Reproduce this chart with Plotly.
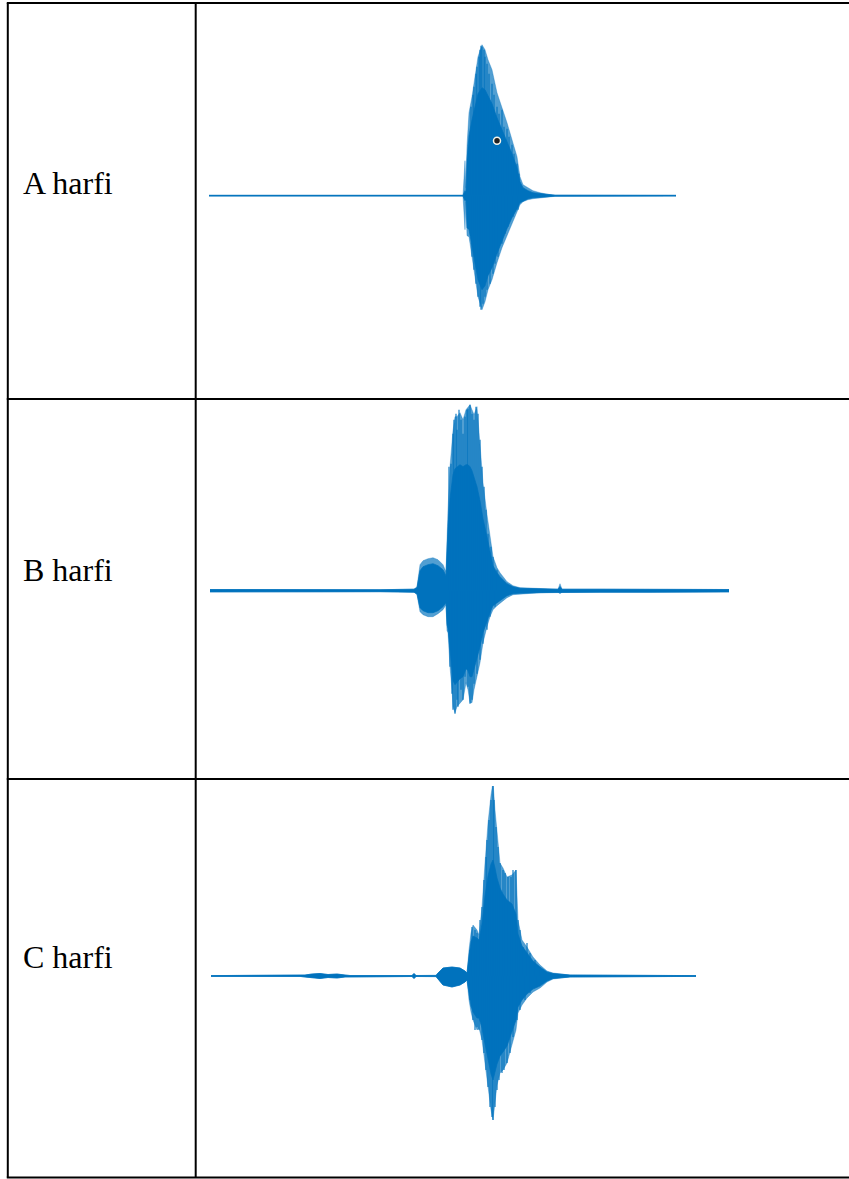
import plotly.graph_objects as go

W, H = 849, 1179

labels = ["A harfi", "B harfi", "C harfi"]

# ---------------- Waveform A ----------------
# frame offset, outer (peak) envelope, dense core envelope
A_t = [0, 254, 256, 257, 258, 260, 263, 266, 269, 273, 276, 279, 283, 288, 293,
       298, 303, 308, 311, 314, 319, 324, 331, 338, 346, 467]
A_up = [0.4, 0.4, 35, 8, 50, 83, 99, 119, 139, 151, 146, 136, 126, 103, 89,
        73, 56, 39, 19, 11, 8, 5, 3, 1.5, 0.6, 0.4]
A_lo = [-0.4, -0.4, -34, -6, -40, -41, -61, -81, -101, -114, -106, -94, -84, -67, -52,
        -39, -27, -16, -9, -6, -4, -3, -2, -1.5, -0.6, -0.4]
A_core_up = [0.4, 0.4, 5, 4, 36, 60, 76, 90, 102, 108, 106, 100, 92, 78, 66,
             54, 42, 28, 14, 8, 5, 3, 2, 1, 0.5, 0.4]
A_core_lo = [-0.4, -0.4, -5, -4, -32, -34, -52, -68, -84, -94, -90, -80, -72, -58, -45,
             -33, -22, -13, -7, -5, -3, -2, -1.5, -1, -0.5, -0.4]
# individual peaks (frame, amplitude)
A_pk_t = [262, 264, 265, 267, 268, 270, 271, 272, 273, 275, 276, 278, 280, 283, 285,
          288, 290, 293, 295, 298, 300, 303, 305, 308, 310,
          263, 265, 267, 269, 271, 272, 274, 276, 278, 281, 284, 286, 289, 293, 296,
          299, 304, 309]
A_pk_v = [89, 101, 109, 122, 129, 139, 146, 150, 149, 146, 139, 132, 122, 112, 101,
          89, 82, 86, 69, 67, 59, 51, 42, 32, 22,
          -61, -74, -88, -101, -111, -114, -108, -101, -94, -88, -78, -68, -61, -48, -38,
          -31, -21, -14]
A_marker_t = [288]
A_marker_v = [55]

# ---------------- Waveform B ----------------
B_t = [0, 50, 110, 170, 204, 207, 210, 213, 218, 223, 228, 233, 236, 237, 238, 240,
       242, 243, 245, 247, 250, 253, 256, 258, 260, 262, 264, 267, 270, 273, 277, 280,
       283, 287, 290, 297, 303, 310, 330, 348, 350, 352, 390, 440, 490, 519]
B_up = [1.2, 1, 1.2, 1, 1.5, 4, 26, 30, 32, 33, 31, 26, 19, 60, 81, 124,
        151, 160, 174, 174, 178, 171, 181, 183, 186, 181, 176, 184, 150, 108, 76, 53,
        34, 23, 18, 9, 5, 3, 2, 1.5, 7, 1.5, 1.5, 1.5, 1.5, 1.2]
B_lo = [-1.2, -1, -1.2, -1, -1.5, -4, -21, -24, -26, -26, -23, -19, -14, -40, -42, -76,
        -99, -116, -122, -116, -112, -109, -92, -99, -112, -112, -99, -86, -72, -52, -36, -26,
        -19, -15, -12, -7, -4, -3, -2, -1.5, -3, -1.5, -1.5, -1.5, -1.5, -1.2]
B_core_up = [1.2, 1, 1.2, 1, 1.5, 3, 20, 24, 26, 27, 25, 21, 15, 46, 64, 92,
             110, 116, 122, 124, 126, 124, 126, 126, 124, 120, 114, 104, 90, 72, 54, 38,
             25, 18, 14, 7, 4, 2.5, 2, 1.5, 4, 1.5, 1.5, 1.5, 1.5, 1.2]
B_core_lo = [-1.2, -1, -1.2, -1, -1.5, -3, -17, -20, -22, -22, -20, -16, -12, -34, -38, -62,
             -78, -90, -94, -92, -88, -86, -78, -80, -86, -86, -78, -68, -56, -42, -30, -22,
             -15, -12, -10, -5, -3, -2.5, -2, -1.5, -2, -1.5, -1.5, -1.5, -1.5, -1.2]
B_pk_t = [239, 241, 243, 244, 246, 247, 249, 251, 253, 255, 257, 258, 260, 262, 264,
          266, 268, 270, 272, 274, 276, 278, 281, 283, 287,
          240, 242, 243, 245, 247, 248, 251, 253, 255, 258, 260, 262, 264, 267, 270,
          273, 277, 280, 285]
B_pk_v = [124, 127, 157, 171, 177, 161, 181, 171, 157, 174, 181, 182, 186, 177, 171,
          184, 177, 151, 124, 104, 81, 57, 44, 34, 21,
          -76, -103, -119, -123, -109, -116, -99, -109, -86, -96, -113, -109, -93, -83, -69,
          -53, -39, -26, -16]

# ---------------- Waveform C ----------------
C_t = [0, 89, 94, 101, 109, 117, 126, 134, 139, 201, 203, 205, 225, 227, 232, 241,
       249, 254, 256, 258, 260, 262, 266, 268, 271, 274, 277, 280, 282, 284, 286, 289,
       292, 296, 301, 305, 307, 311, 316, 322, 329, 336, 342, 349, 359, 485]
C_up = [0.4, 0.4, 1, 2, 2.5, 1.5, 2, 1, 0.5, 0.5, 2.5, 0.5, 0.6, 3, 8, 9,
        8, 5, 3, 26, 43, 51, 46, 41, 69, 113, 153, 181, 194, 166, 143, 113,
        108, 99, 101, 106, 56, 36, 29, 19, 11, 5, 3, 2, 1, 0.4]
C_lo = [-0.4, -0.4, -1, -2, -2.5, -1.5, -2, -1, -0.5, -0.5, -2.5, -0.5, -0.6, -3, -9, -11,
        -9, -6, -4, -24, -36, -44, -54, -52, -64, -87, -111, -134, -144, -124, -109, -97,
        -94, -87, -69, -54, -37, -29, -22, -16, -12, -6, -3, -2, -1, -0.4]
C_core_up = [0.4, 0.4, 1, 2, 2.5, 1.5, 2, 1, 0.5, 0.5, 2.5, 0.5, 0.6, 3, 8, 9,
             8, 5, 3, 20, 34, 40, 38, 36, 52, 80, 100, 112, 116, 108, 98, 88,
             82, 76, 72, 62, 42, 30, 23, 15, 9, 4, 2.5, 2, 1, 0.4]
C_core_lo = [-0.4, -0.4, -1, -2, -2.5, -1.5, -2, -1, -0.5, -0.5, -2.5, -0.5, -0.6, -3, -9, -11,
             -9, -6, -4, -18, -30, -36, -42, -42, -52, -68, -84, -98, -104, -96, -88, -80,
             -76, -70, -56, -44, -31, -24, -18, -13, -10, -5, -2.5, -2, -1, -0.4]
C_pk_t = [259, 261, 264, 266, 269, 271, 273, 275, 276, 278, 280, 282, 283, 285, 287,
          289, 292, 294, 297, 300, 302, 305, 307, 309, 312, 316, 319, 324, 329,
          259, 262, 264, 266, 268, 271, 273, 275, 277, 279, 281, 282, 284, 286, 288,
          291, 293, 296, 299, 302, 306, 309, 314, 319, 326]
C_pk_v = [26, 49, 46, 43, 56, 69, 96, 119, 136, 156, 176, 194, 176, 149, 129,
          113, 106, 103, 99, 99, 106, 106, 56, 46, 29, 33, 23, 16, 9,
          -24, -44, -54, -51, -54, -64, -77, -94, -111, -131, -141, -144, -131, -114, -104,
          -97, -94, -87, -77, -61, -44, -34, -24, -17, -11]

waves = [
    (A_t, A_up, A_lo, A_core_up, A_core_lo, A_pk_t, A_pk_v),
    (B_t, B_up, B_lo, B_core_up, B_core_lo, B_pk_t, B_pk_v),
    (C_t, C_up, C_lo, C_core_up, C_core_lo, C_pk_t, C_pk_v),
]

# layout geometry (pixels)
wave_x = [(209, 676), (210, 729), (211, 696)]
wave_base = [195.7, 590.7, 976.0]
half_span = 190
text_y = [184, 571, 958]
row_lines = [3, 399, 779, 1177.5]
col_lines = [7.8, 195.7]

BLUE = "#0072BD"
BLUE_LIGHT = "rgba(0,114,189,0.68)"


def px(x):
    return x / W


def py(y):
    return 1 - y / H


fig = go.Figure()
layout = dict(
    width=W, height=H, margin=dict(l=0, r=0, t=0, b=0),
    paper_bgcolor="white", plot_bgcolor="rgba(0,0,0,0)", showlegend=False,
)

for i, (t, up, lo, cup, clo, pt, pv) in enumerate(waves):
    n = "" if i == 0 else str(i + 1)
    xa, ya = "x" + n, "y" + n
    # outer (peak) envelope
    fig.add_trace(go.Scatter(x=list(t) + list(t)[::-1], y=list(up) + list(lo)[::-1],
                             fill="toself", fillcolor=BLUE_LIGHT, mode="lines",
                             line=dict(color=BLUE_LIGHT, width=0.5),
                             xaxis=xa, yaxis=ya, hoverinfo="skip"))
    # dense core
    fig.add_trace(go.Scatter(x=list(t) + list(t)[::-1], y=list(cup) + list(clo)[::-1],
                             fill="toself", fillcolor=BLUE, mode="lines",
                             line=dict(color=BLUE, width=0.7),
                             xaxis=xa, yaxis=ya, hoverinfo="skip"))
    # individual peaks
    sx, sy = [], []
    for tt, vv in zip(pt, pv):
        sx += [tt, tt, None]
        sy += [0, vv, None]
    fig.add_trace(go.Scatter(x=sx, y=sy, mode="lines",
                             line=dict(color=BLUE, width=1.1),
                             xaxis=xa, yaxis=ya, hoverinfo="skip"))
    x0, x1 = wave_x[i]
    b = wave_base[i]
    layout["xaxis" + n] = dict(domain=[px(x0), px(x1)], range=[0, t[-1]],
                               visible=False, fixedrange=True, anchor=ya)
    layout["yaxis" + n] = dict(domain=[py(b + half_span), py(b - half_span)],
                               range=[-half_span, half_span], visible=False,
                               fixedrange=True, anchor=xa)

fig.add_trace(go.Scatter(x=A_marker_t, y=A_marker_v, mode="markers",
                         marker=dict(symbol="circle", size=7, color="#222222",
                                     line=dict(color="#f4f4ea", width=1.5)),
                         xaxis="x", yaxis="y", hoverinfo="skip"))

shapes = []
for y in row_lines:
    shapes.append(dict(type="line", xref="paper", yref="paper",
                       x0=px(col_lines[0] - 1), x1=1.01, y0=py(y), y1=py(y),
                       line=dict(color="black", width=2)))
for x in col_lines:
    shapes.append(dict(type="line", xref="paper", yref="paper",
                       x0=px(x), x1=px(x), y0=py(row_lines[0]), y1=py(row_lines[-1]),
                       line=dict(color="black", width=2)))
layout["shapes"] = shapes

annotations = []
for lab, y in zip(labels, text_y):
    annotations.append(dict(text=lab, xref="paper", yref="paper", x=px(21), y=py(y - 1),
                            xanchor="left", yanchor="middle", showarrow=False,
                            font=dict(family="Liberation Serif", size=32, color="black")))
layout["annotations"] = annotations

fig.update_layout(**layout)
fig.write_html("out.html",
               config={"displayModeBar": False, "staticPlot": True},
               post_script="document.body.style.margin='0';"
                           "document.body.style.overflow='hidden';")
